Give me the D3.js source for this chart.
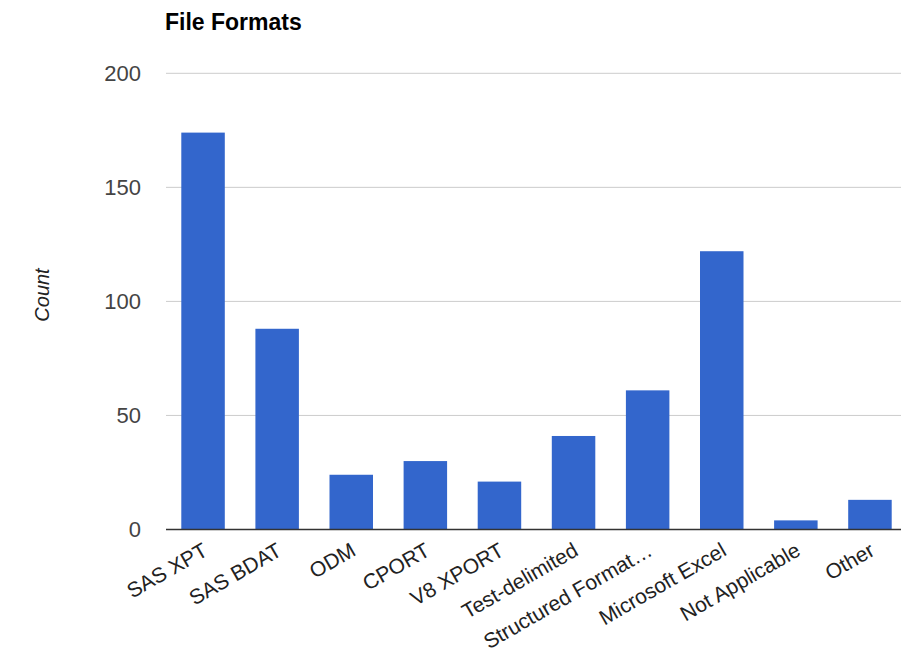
<!DOCTYPE html>
<html>
<head>
<meta charset="utf-8">
<script src="https://cdn.jsdelivr.net/npm/d3@7/dist/d3.min.js"></script>
<style>
  html, body { margin: 0; padding: 0; background: #fff; }
  svg { display: block; font-family: Arial, "Liberation Sans", sans-serif; }
</style>
</head>
<body>
<svg id="chart" width="901" height="665"></svg>
<script>
const categories = ["SAS XPT", "SAS BDAT", "ODM", "CPORT", "V8 XPORT", "Test-delimited", "Structured Format…", "Microsoft Excel", "Not Applicable", "Other"];
const counts = [174, 88, 24, 30, 21, 41, 61, 122, 4, 13];
const yTicks = [0, 50, 100, 150, 200];
const title = "File Formats";
const yTitle = "Count";

const svg = d3.select("#chart");
const plotLeft = 166, plotRight = 907, plotTop = 73.3, plotBottom = 529.5;

const x = d3.scaleBand().domain(categories).range([plotLeft, plotRight]).paddingInner(0.413).paddingOuter(0.2065);
const y = d3.scaleLinear().domain([0, 200]).range([plotBottom, plotTop]);

// gridlines
svg.append("g").selectAll("line").data(yTicks.filter(d => d !== 0)).join("line")
  .attr("x1", plotLeft).attr("x2", 901)
  .attr("y1", d => y(d)).attr("y2", d => y(d))
  .attr("stroke", "#cccccc").attr("stroke-width", 1);

// y tick labels
const yAxis = d3.axisLeft(y).tickValues(yTicks).tickSize(0).tickPadding(0).tickFormat(d3.format("d"));
const ya = svg.append("g").attr("transform", `translate(${plotLeft - 25},0)`).call(yAxis);
ya.select(".domain").remove();
ya.selectAll("text").attr("font-size", 22).attr("fill", "#444").attr("font-family", "Arial, 'Liberation Sans', sans-serif");

// bars
svg.append("g").selectAll("rect").data(counts).join("rect")
  .attr("x", (d, i) => x(categories[i]))
  .attr("width", x.bandwidth())
  .attr("y", d => y(d))
  .attr("height", d => y(0) - y(d))
  .attr("fill", "#3366cc");

// baseline
svg.append("line").attr("x1", plotLeft).attr("x2", 901).attr("y1", y(0)).attr("y2", y(0))
  .attr("stroke", "#333").attr("stroke-width", 1.5);

// x labels
const xAxis = d3.axisBottom(x).tickSize(0).tickPadding(0);
const xa = svg.append("g").attr("transform", `translate(0,${plotBottom})`).call(xAxis);
xa.select(".domain").remove();
xa.selectAll("text")
  .attr("font-size", 21).attr("fill", "#222")
  .attr("font-family", "Arial, 'Liberation Sans', sans-serif")
  .attr("text-anchor", "end")
  .attr("dy", null).attr("y", 0)
  .attr("transform", "translate(6,25) rotate(-30)");

// title
svg.append("text").attr("x", 165).attr("y", 30).text(title)
  .attr("font-size", 23).attr("font-weight", "bold").attr("fill", "#000");

// y title
svg.append("text").attr("transform", `translate(49,295) rotate(-90)`)
  .attr("text-anchor", "middle").attr("font-size", 20).attr("font-style", "italic").attr("fill", "#222")
  .text(yTitle);
</script>
</body>
</html>
